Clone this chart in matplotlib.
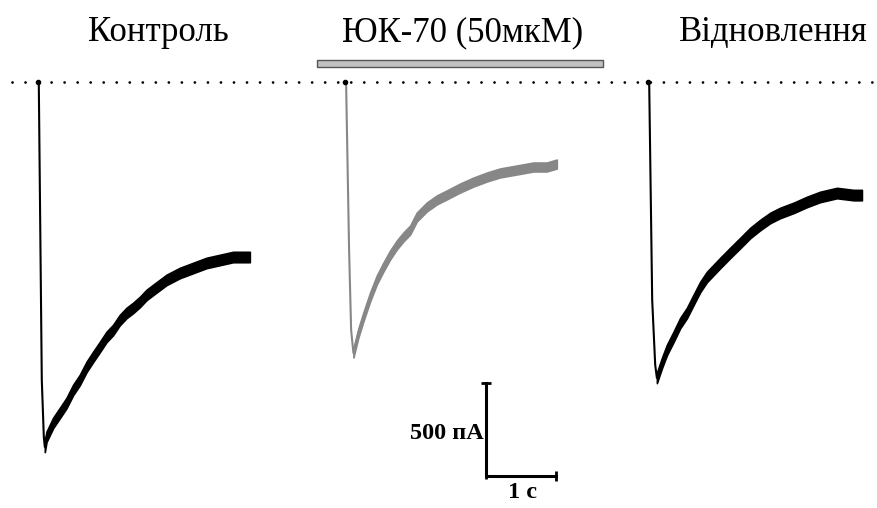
import matplotlib
matplotlib.use('Agg')
import matplotlib.pyplot as plt
from matplotlib.patches import Rectangle
import numpy as np

plt.rcParams['font.family'] = ['Liberation Serif', 'DejaVu Serif']

titles = ['Контроль', 'ЮК-70 (50мкМ)', 'Відновлення']
sweep_start = [0.54, 4.93, 9.26]      # s, position of each sweep on the page
colors = ['#000000', '#878787', '#000000']
noise = [28, 24, 28]                  # pA, half-width of the noisy band

# time from sweep start (ms) and current (pA)
t_control = [0, 14, 57, 86, 100, 124, 219, 314, 410, 504, 600, 696, 790, 886, 981,
             1076, 1171, 1267, 1361, 1457, 1553, 1647, 1743, 1839, 2029, 2219,
             2410, 2600, 2790, 3029]
i_control = [0, 0, -1602, -1908, -1962, -1908, -1833, -1780, -1726, -1656, -1602,
             -1532, -1478, -1425, -1371, -1333, -1280, -1242, -1215, -1183, -1145,
             -1118, -1091, -1064, -1027, -1000, -973, -957, -941, -941]

t_yuk = [0, 14, 57, 86, 119, 190, 261, 357, 453, 547, 643, 739, 833, 929, 1024,
         1167, 1310, 1453, 1643, 1833, 2024, 2214, 2453, 2690, 2881, 3024]
i_yuk = [0, 0, -903, -1333, -1457, -1349, -1263, -1156, -1064, -995, -930, -876,
         -833, -796, -726, -672, -634, -607, -570, -538, -511, -489, -473, -457,
         -457, -441]

t_recov = [0, 14, 57, 100, 124, 196, 267, 361, 457, 553, 647, 743, 839, 933, 1029,
           1171, 1314, 1457, 1600, 1743, 1886, 2076, 2267, 2457, 2696, 2933, 3053]
i_recov = [0, 0, -1172, -1521, -1591, -1511, -1441, -1371, -1296, -1242, -1172,
           -1102, -1048, -1011, -973, -919, -866, -812, -769, -731, -704, -677,
           -645, -618, -597, -608, -608]

sweeps = [(t_control, i_control), (t_yuk, i_yuk), (t_recov, i_recov)]

# page scale: 1 s = 70 px, 500 pA = 93 px
W, H = 877, 508
fig = plt.figure(figsize=(W / 100, H / 100), dpi=100)
ax = fig.add_axes([0, 0, 1, 1])
ax.set_xlim(0, W / 70)
ax.set_ylim(-(H - 82) * 500 / 93, 82 * 500 / 93)
ax.axis('off')

# dotted baseline
ax.plot([0.17, W / 70], [0, 0], color='k', lw=2,
        linestyle=(0, (0.01, 4.68)), dash_capstyle='round')

for (t, i), t0, c, n in zip(sweeps, sweep_start, colors, noise):
    t = np.array(t) / 1000 + t0
    i = np.array(i)
    k = int(np.argmin(i))
    ax.fill_between(t[k:], i[k:] - n, i[k:] + n, color=c, lw=1.2)
    ax.plot(t, i, color=c, lw=1.5)
    ax.plot(t[0], i[0], 'o', color='k', ms=3)

# drug application bar
ax.add_patch(Rectangle((317 / 70, 81), (603 - 317) / 70, 37,
                       facecolor='#c0c0c0', edgecolor='#555555', lw=1))

# scale bar
sx, sy = 486 / 70, -(476 - 82) * 500 / 93
ax.plot([sx, sx, sx + 1], [sy + 500, sy, sy], color='k', lw=2.2)
ax.plot([sx], [sy + 500], marker='_', color='k', ms=7, mew=2)
ax.plot([sx + 1], [sy], marker='|', color='k', ms=7, mew=2)
ax.plot([sx], [sy], marker='|', color='k', ms=5, mew=2)
ax.text(sx - 0.03, sy + 230, '500 пА', ha='right', va='center',
        fontsize=17.5, fontweight='bold')
ax.text(sx + 0.52, sy - 30, '1 с', ha='center', va='top',
        fontsize=17.5, fontweight='bold')

for title, xc in zip(titles, [158, 463, 773]):
    fig.text(xc / W, 1 - 41 / H, title, ha='center', va='baseline', fontsize=25)

fig.savefig('out.png', dpi=100)
